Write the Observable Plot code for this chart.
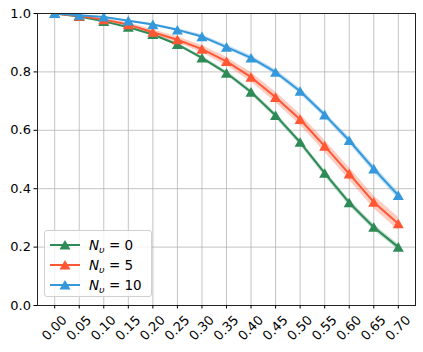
<!DOCTYPE html>
<html>
<head>
<meta charset="utf-8">
<script src="https://cdn.jsdelivr.net/npm/d3@7"></script>
<script src="https://cdn.jsdelivr.net/npm/@observablehq/plot@0.6"></script>
<style>
  html, body { margin: 0; padding: 0; background: #fff; }
  #wrap { position: relative; width: 423px; height: 352px; font-family: "DejaVu Sans", sans-serif; }
  #legend { position: absolute; left: 44px; top: 230px; width: 108px; height: 67px; box-sizing: border-box;
    border: 1px solid #d0d0d0; border-radius: 3px; background: rgba(255,255,255,0.8); font-size: 13.5px; color: #000; }
  .item { position: absolute; left: 4px; height: 20px; display: flex; align-items: center; }
  .item svg { width: 32px; height: 20px; }
  .lab { margin-left: 8px; white-space: nowrap; }
  .lab i { font-style: italic; }
  .lab sub { font-size: 9.5px; font-style: italic; vertical-align: -3px; line-height: 0; }
</style>
</head>
<body>
<div id="wrap"></div>
<script>
// ---- data ----
const xs = [0.00, 0.05, 0.10, 0.15, 0.20, 0.25, 0.30, 0.35, 0.40, 0.45, 0.50, 0.55, 0.60, 0.65, 0.70];
const seriesNames = ["N_υ = 0", "N_υ = 5", "N_υ = 10"];
const seriesNu = ["0", "5", "10"];
const seriesColors = ["#2e8b57", "#ff5733", "#3498db"];
const nu0 = [1.000, 0.990, 0.973, 0.953, 0.928, 0.894, 0.848, 0.796, 0.731, 0.651, 0.559, 0.453, 0.352, 0.268, 0.200];
const nu5 = [1.000, 0.991, 0.979, 0.962, 0.936, 0.910, 0.878, 0.836, 0.782, 0.713, 0.637, 0.546, 0.451, 0.354, 0.280];
const nu10 = [1.000, 0.994, 0.988, 0.975, 0.962, 0.944, 0.921, 0.885, 0.848, 0.799, 0.734, 0.653, 0.565, 0.468, 0.377];
const sd0 = [0, 0.001, 0.002, 0.003, 0.004, 0.005, 0.006, 0.007, 0.008, 0.009, 0.009, 0.010, 0.010, 0.010, 0.010];
const sd5 = [0, 0.002, 0.004, 0.006, 0.008, 0.010, 0.012, 0.014, 0.016, 0.018, 0.019, 0.020, 0.021, 0.022, 0.022];
const sd10 = [0, 0.001, 0.002, 0.003, 0.004, 0.005, 0.006, 0.007, 0.008, 0.009, 0.010, 0.010, 0.011, 0.012, 0.012];
const xTicks = [0.00, 0.05, 0.10, 0.15, 0.20, 0.25, 0.30, 0.35, 0.40, 0.45, 0.50, 0.55, 0.60, 0.65, 0.70];
const yTicks = [0.0, 0.2, 0.4, 0.6, 0.8, 1.0];

const values = [nu0, nu5, nu10];
const sds = [sd0, sd5, sd10];
const rows = [];
values.forEach((vals, s) => vals.forEach((v, i) => rows.push({
  series: seriesNames[s], x: xs[i], y: v, lo: v - sds[s][i], hi: v + sds[s][i]
})));

const colorScale = {domain: seriesNames, range: seriesColors};
const fmtX = d3.format(".2f");
const marks = [
  Plot.gridX(xTicks, {stroke: "#b0b0b0", strokeOpacity: 0.75, strokeWidth: 1}),
  Plot.gridY(yTicks, {stroke: "#b0b0b0", strokeOpacity: 0.75, strokeWidth: 1}),
];
seriesNames.forEach((name) => {
  const d = rows.filter(r => r.series === name);
  marks.push(Plot.areaY(d, {x: "x", y1: "lo", y2: "hi", fill: "series", fillOpacity: 0.3, clip: true}));
  marks.push(Plot.line(d, {x: "x", y: "y", stroke: "series", strokeWidth: 2, clip: true}));
  marks.push(Plot.dot(d, {x: "x", y: "y", fill: "series", symbol: "triangle", r: 4.1, dy: 1.4, clip: true}));
});
marks.push(
  Plot.frame({stroke: "#222", strokeWidth: 1}),
  Plot.axisY({ticks: yTicks, tickFormat: ".1f", tickSize: 3.5, tickPadding: 3, label: null, fontSize: 13}),
  Plot.axisX({ticks: xTicks, tickFormat: () => "", tickSize: 3.5, label: null}),
  Plot.text(xTicks, {x: d => d, frameAnchor: "bottom", text: d => fmtX(d), rotate: -45,
    textAnchor: "end", lineAnchor: "middle", fontSize: 13, dx: 10, dy: 12.4, fill: "#000"})
);

const chart = Plot.plot({
  width: 423, height: 352,
  marginLeft: 37, marginRight: 8, marginTop: 13, marginBottom: 47,
  style: {fontFamily: "DejaVu Sans, sans-serif", fontSize: "13px", color: "#000", background: "#fff"},
  x: {domain: [-0.035, 0.735]},
  y: {domain: [0, 1]},
  color: colorScale,
  marks
});
const wrap = document.getElementById("wrap");
wrap.appendChild(chart);

// legend (overlay inside the plot area, like matplotlib's legend)
const legend = document.createElement("div");
legend.id = "legend";
seriesNames.forEach((name, i) => {
  const item = document.createElement("div");
  item.className = "item";
  item.style.top = (4 + i * 20) + "px";
  const c = seriesColors[i];
  item.innerHTML =
    `<svg viewBox="0 0 32 20"><line x1="1" x2="31" y1="10" y2="10" stroke="${c}" stroke-width="2"/>` +
    `<path d="${d3.symbol(d3.symbolTriangle, Math.PI * 4.1 * 4.1)()}" transform="translate(16,11.4)" fill="${c}"/></svg>` +
    `<span class="lab"><i>N</i><sub>υ</sub> = ${seriesNu[i]}</span>`;
  legend.appendChild(item);
});
wrap.appendChild(legend);
</script>
</body>
</html>
